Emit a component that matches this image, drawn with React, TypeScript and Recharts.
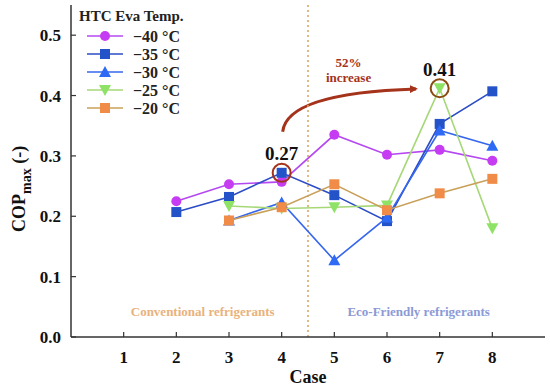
import React from 'react'
import {
  LineChart,
  Line,
  XAxis,
  YAxis,
  ReferenceLine,
  ReferenceDot,
  Customized,
} from 'recharts'

// COP max vs case, per evaporating temperature

const CASES = [2, 3, 4, 5, 6, 7, 8]
const M40 = [0.225, 0.253, 0.257, 0.335, 0.302, 0.31, 0.292]
const M35 = [0.207, 0.232, 0.272, 0.235, 0.192, 0.353, 0.407]
const M30 = [null, 0.193, 0.223, 0.127, 0.198, 0.342, 0.317]
const M25 = [null, 0.217, 0.213, 0.215, 0.218, 0.412, 0.18]
const M20 = [null, 0.193, 0.215, 0.253, 0.21, 0.238, 0.262]
const X_TICKS = [1, 2, 3, 4, 5, 6, 7, 8]
const Y_TICKS = [0, 0.1, 0.2, 0.3, 0.4, 0.5]

const W = 550
const H = 388
const M = { top: 5, right: 5, left: 0, bottom: 0 }
const Y_W = 71
const X_H = 51
const PLOT = { x0: Y_W, x1: W - M.right, y0: M.top, y1: H - X_H }
const X_DOM = [0, 9]
const Y_DOM = [0, 0.55]
const px = (v: number) => PLOT.x0 + ((v - X_DOM[0]) / (X_DOM[1] - X_DOM[0])) * (PLOT.x1 - PLOT.x0)
const py = (v: number) => PLOT.y1 - ((v - Y_DOM[0]) / (Y_DOM[1] - Y_DOM[0])) * (PLOT.y1 - PLOT.y0)

const FONT = '"Liberation Serif", "Times New Roman", serif'
const AXIS = '#333'
const ANNO = '#a5321a'

const SERIES = [
  { key: 'm40', name: '\u221240 \u00b0C', values: M40, line: '#b548f0', fill: '#c63cf2', shape: 'circle' },
  { key: 'm35', name: '\u221235 \u00b0C', values: M35, line: '#2b4cc4', fill: '#2452c8', shape: 'square' },
  { key: 'm30', name: '\u221230 \u00b0C', values: M30, line: '#3566ee', fill: '#2f6af5', shape: 'up' },
  { key: 'm25', name: '\u221225 \u00b0C', values: M25, line: '#a6d878', fill: '#8ee266', shape: 'down' },
  { key: 'm20', name: '\u221220 \u00b0C', values: M20, line: '#c9a05a', fill: '#f08c48', shape: 'square' },
]

const data = CASES.map((c, i) => {
  const row: Record<string, number | null> = { case: c }
  SERIES.forEach((s) => {
    row[s.key] = s.values[i]
  })
  return row
})

function Marker({ cx, cy, shape, fill }: { cx: number; cy: number; shape: string; fill: string }) {
  if (shape === 'circle') return <circle cx={cx} cy={cy} r={5} fill={fill} />
  if (shape === 'square') return <rect x={cx - 5} y={cy - 5} width={10} height={10} fill={fill} />
  if (shape === 'up')
    return <polygon points={`${cx},${cy - 6} ${cx - 6},${cy + 5} ${cx + 6},${cy + 5}`} fill={fill} />
  return <polygon points={`${cx},${cy + 6} ${cx - 6},${cy - 5} ${cx + 6},${cy - 5}`} fill={fill} />
}

function XTick(props: any) {
  const { x, y, payload } = props
  return (
    <g>
      <line x1={x} x2={x} y1={y} y2={y - 5} stroke={AXIS} strokeWidth={1.2} />
      <text x={x} y={y + 26} textAnchor="middle" fontFamily={FONT} fontWeight="bold" fontSize={17} fill="#111">
        {payload.value}
      </text>
    </g>
  )
}

function YTick(props: any) {
  const { x, y, payload } = props
  return (
    <g>
      <line x1={x} x2={x + 5} y1={y} y2={y} stroke={AXIS} strokeWidth={1.2} />
      <text x={x - 10} y={y + 6} textAnchor="end" fontFamily={FONT} fontWeight="bold" fontSize={17} fill="#111">
        {Number(payload.value).toFixed(1)}
      </text>
    </g>
  )
}

function Overlay() {
  const lx = PLOT.x0 + 16
  const rows = [36, 54, 72, 90, 108]
  const sx = px(4) + 1
  const sy = py(0.34)
  const ex = px(6.55)
  const ey = py(0.411)
  return (
    <g fontFamily={FONT} fontWeight="bold">
      {/* legend */}
      <text x={PLOT.x0 + 8} y={21} fontSize={15} fill="#222">
        HTC Eva Temp.
      </text>
      {SERIES.map((s, i) => (
        <g key={s.key}>
          <line x1={lx} x2={lx + 36} y1={rows[i]} y2={rows[i]} stroke={s.line} strokeWidth={1.6} />
          <Marker cx={lx + 18} cy={rows[i]} shape={s.shape} fill={s.fill} />
          <text x={lx + 46} y={rows[i] + 6} fontSize={16} fill="#222">
            {s.name}
          </text>
        </g>
      ))}

      {/* 52% increase arrow */}
      <defs>
        <marker id="ah" markerWidth="8" markerHeight="8" refX="6" refY="4" orient="auto" markerUnits="userSpaceOnUse">
          <path d="M0,0 L8,4 L0,8 Z" fill={ANNO} />
        </marker>
      </defs>
      <path
        d={`M${sx},${sy} Q${sx + 4},${ey + 4} ${ex},${ey}`}
        fill="none"
        stroke={ANNO}
        strokeWidth={3}
        markerEnd="url(#ah)"
      />
      <text x={px(5.27)} y={py(0.448)} textAnchor="middle" fontSize={13} fill={ANNO}>
        52%
      </text>
      <text x={px(5.27)} y={py(0.423)} textAnchor="middle" fontSize={13} fill={ANNO}>
        increase
      </text>

      {/* region labels */}
      <text x={px(2.5)} y={py(0.035)} textAnchor="middle" fontSize={13} fill="#e9b27c">
        Conventional refrigerants
      </text>
      <text x={px(6.6)} y={py(0.035)} textAnchor="middle" fontSize={13} fill="#8c9ad6">
        Eco-Friendly refrigerants
      </text>

      {/* y axis title */}
      <text transform={`translate(25, 232) rotate(-90)`} fontSize={18} fill="#111">
        <tspan>COP</tspan>
        <tspan fontSize={14} dy={6}>max</tspan>
        <tspan dy={-6}> (-)</tspan>
      </text>
      {/* x axis title */}
      <text x={px(4.5)} y={383} textAnchor="middle" fontSize={18} fill="#111">
        Case
      </text>
    </g>
  )
}

export default function App() {
  return (
    <div style={{ position: 'absolute', left: 0, top: 0, width: W, height: H, background: '#fff' }}>
      <LineChart width={W} height={H} data={data} margin={M}>
        <XAxis
          xAxisId="b"
          dataKey="case"
          type="number"
          domain={X_DOM}
          ticks={X_TICKS}
          height={X_H}
          tickLine={false}
          tickSize={0}
          tickMargin={0}
          tick={<XTick />}
          stroke={AXIS}
          strokeWidth={1.5}
          interval={0}
        />
        <XAxis xAxisId="t" orientation="top" type="number" domain={X_DOM} height={0} tick={false} tickLine={false} stroke={AXIS} strokeWidth={1.5} />
        <YAxis
          yAxisId="l"
          type="number"
          domain={Y_DOM}
          ticks={Y_TICKS}
          width={Y_W}
          tickLine={false}
          tickSize={0}
          tickMargin={0}
          tick={<YTick />}
          stroke={AXIS}
          strokeWidth={1.5}
          interval={0}
        />
        <YAxis yAxisId="r" orientation="right" type="number" domain={Y_DOM} width={0} tick={false} tickLine={false} stroke={AXIS} strokeWidth={1.5} />

        <ReferenceLine xAxisId="b" yAxisId="l" x={4.5} stroke="#d6a25e" strokeWidth={1.5} strokeDasharray="2 3" />

        {SERIES.map((s) => (
          <Line
            key={s.key}
            xAxisId="b"
            yAxisId="l"
            dataKey={s.key}
            name={s.name}
            stroke={s.line}
            strokeWidth={1.6}
            isAnimationActive={false}
            connectNulls={false}
            dot={(p: any) =>
              p.value == null ? <g key={`${s.key}-${p.index}`} /> : (
                <Marker key={`${s.key}-${p.index}`} cx={p.cx} cy={p.cy} shape={s.shape} fill={s.fill} />
              )
            }
            activeDot={false}
          />
        ))}

        <ReferenceDot
          xAxisId="b"
          yAxisId="l"
          x={4}
          y={M35[2]}
          r={9}
          fill="none"
          stroke={ANNO}
          strokeWidth={2}
          label={{ value: '0.27', position: 'top', offset: 4, fontFamily: FONT, fontWeight: 'bold', fontSize: 19, fill: '#111' }}
        />
        <ReferenceDot
          xAxisId="b"
          yAxisId="l"
          x={7}
          y={M25[5]}
          r={9}
          fill="none"
          stroke="#8a4a10"
          strokeWidth={2}
          label={{ value: '0.41', position: 'top', offset: 3, fontFamily: FONT, fontWeight: 'bold', fontSize: 19, fill: '#111' }}
        />
        <Customized component={Overlay} />
      </LineChart>
    </div>
  )
}
